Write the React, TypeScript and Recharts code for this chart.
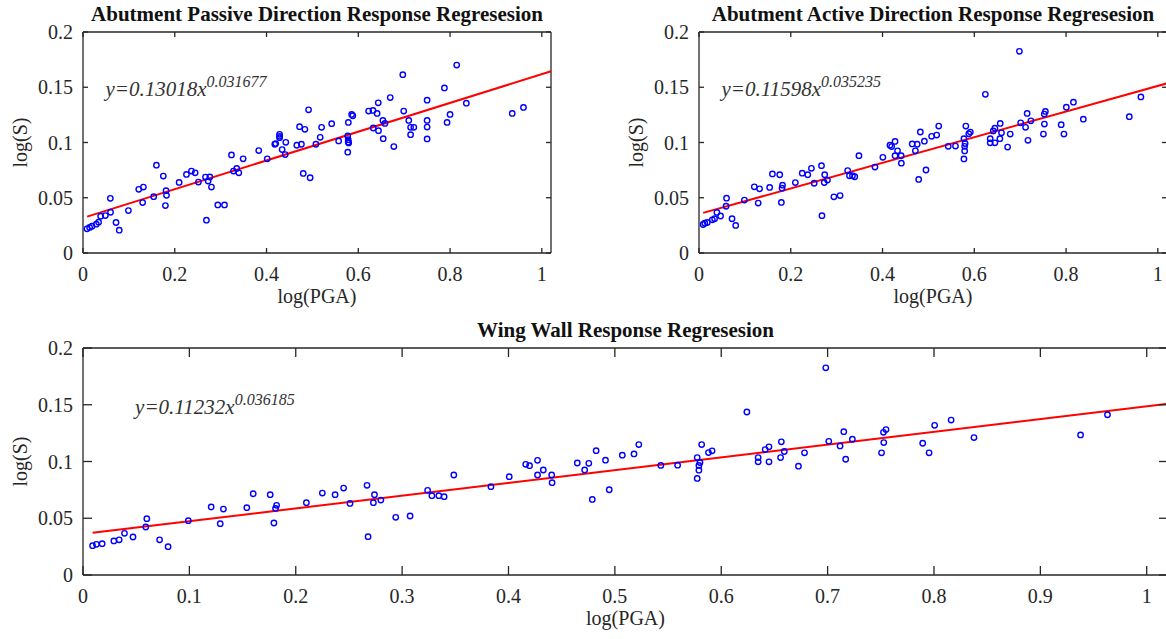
import { ComposedChart, Scatter, XAxis, YAxis, ReferenceDot } from "recharts";

const FONT = "'Liberation Serif', 'Times New Roman', serif";
const INK = "#262626";
const BLUE = "#0000ff";
const RED = "#ff0000";

// tick values
const xTicksNarrow = [0, 0.2, 0.4, 0.6, 0.8, 1];
const xTicksWide = [0, 0.1, 0.2, 0.3, 0.4, 0.5, 0.6, 0.7, 0.8, 0.9, 1];
const yTicks = [0, 0.05, 0.1, 0.15, 0.2];

// abutment passive direction: [log(PGA), log(S)]
const passivePts: [number, number][] = [
  [0.0087, 0.0219], [0.0145, 0.0231], [0.0196, 0.0243], [0.029, 0.0261], [0.034, 0.0279],
  [0.0385, 0.0333], [0.0487, 0.0339], [0.06, 0.0369], [0.0596, 0.0495], [0.072, 0.0276],
  [0.079, 0.0207], [0.099, 0.0384], [0.1215, 0.0576], [0.13, 0.0456], [0.1316, 0.0597],
  [0.154, 0.051], [0.16, 0.0795], [0.175, 0.0696], [0.1796, 0.0429], [0.181, 0.0564],
  [0.182, 0.0522], [0.2095, 0.0639], [0.2255, 0.0711], [0.2364, 0.0741], [0.2444, 0.0726],
  [0.2516, 0.0642], [0.267, 0.0687], [0.269, 0.0297], [0.2727, 0.0651], [0.2764, 0.0688],
  [0.28, 0.0597], [0.2938, 0.0435], [0.3084, 0.0435], [0.3236, 0.0888], [0.328, 0.0741],
  [0.335, 0.0765], [0.3396, 0.0726], [0.349, 0.0852], [0.383, 0.0927], [0.4015, 0.0852],
  [0.418, 0.0984], [0.42, 0.099], [0.4284, 0.1074], [0.4284, 0.1056], [0.4284, 0.1044],
  [0.434, 0.0936], [0.442, 0.1002], [0.4407, 0.0891], [0.466, 0.0975], [0.472, 0.1143],
  [0.476, 0.0984], [0.48, 0.072], [0.4836, 0.1119], [0.4916, 0.1296], [0.495, 0.0681],
  [0.5076, 0.0984], [0.517, 0.1047], [0.52, 0.1137], [0.542, 0.117], [0.5572, 0.1014],
  [0.577, 0.1059], [0.578, 0.1026], [0.578, 0.1005], [0.579, 0.0996], [0.577, 0.0912],
  [0.5783, 0.1182], [0.5855, 0.1254], [0.588, 0.1242], [0.6225, 0.1284], [0.632, 0.129],
  [0.6326, 0.1131], [0.641, 0.1263], [0.6435, 0.1359], [0.644, 0.1107], [0.6536, 0.12],
  [0.6543, 0.1035], [0.658, 0.1173], [0.6696, 0.1407], [0.6775, 0.0963], [0.697, 0.1614],
  [0.699, 0.1284], [0.71, 0.12], [0.714, 0.1137], [0.721, 0.1137], [0.714, 0.1071],
  [0.75, 0.1383], [0.75, 0.12], [0.75, 0.114], [0.75, 0.1032], [0.7877, 0.1494],
  [0.7935, 0.1182], [0.8, 0.1254], [0.8145, 0.1701], [0.8355, 0.1356], [0.9355, 0.1263],
  [0.96, 0.1317],
];

// abutment active direction and wing wall share the same points
const activePts: [number, number][] = [
  [0.009, 0.0258], [0.0126, 0.027], [0.018, 0.0276], [0.029, 0.03], [0.034, 0.031],
  [0.039, 0.0367], [0.047, 0.0335], [0.059, 0.0423], [0.06, 0.0496], [0.072, 0.031],
  [0.08, 0.025], [0.099, 0.0479], [0.1205, 0.0599], [0.129, 0.0452], [0.132, 0.0581],
  [0.154, 0.0593], [0.16, 0.0716], [0.176, 0.0708], [0.1795, 0.0458], [0.181, 0.0587],
  [0.182, 0.0614], [0.21, 0.0637], [0.225, 0.0722], [0.237, 0.0708], [0.245, 0.0766],
  [0.251, 0.0631], [0.267, 0.079], [0.268, 0.0338], [0.273, 0.0637], [0.274, 0.0708],
  [0.28, 0.066], [0.294, 0.0508], [0.3075, 0.052], [0.324, 0.0746], [0.328, 0.0699],
  [0.3345, 0.0699], [0.3395, 0.069], [0.3486, 0.0881], [0.3835, 0.0778], [0.4007, 0.0866],
  [0.4162, 0.0975], [0.4198, 0.0963], [0.4273, 0.101], [0.4273, 0.0881], [0.4327, 0.0925],
  [0.4406, 0.0881], [0.441, 0.0813], [0.4647, 0.0987], [0.4716, 0.0925], [0.4755, 0.0984],
  [0.4788, 0.0666], [0.4824, 0.1095], [0.4912, 0.1012], [0.4947, 0.0751], [0.507, 0.1056],
  [0.518, 0.1067], [0.5225, 0.1149], [0.5432, 0.0965], [0.559, 0.0968], [0.5774, 0.1035],
  [0.5774, 0.0851], [0.579, 0.0965], [0.579, 0.0924], [0.58, 0.0991], [0.5816, 0.1149],
  [0.588, 0.1079], [0.5914, 0.1094], [0.6241, 0.1436], [0.6347, 0.1035], [0.6347, 0.0997],
  [0.6413, 0.1105], [0.6449, 0.1129], [0.6449, 0.0997], [0.6558, 0.1035], [0.6565, 0.1173],
  [0.6593, 0.1088], [0.6726, 0.0959], [0.6783, 0.1076], [0.6983, 0.1825], [0.7011, 0.1178],
  [0.7117, 0.1137], [0.7152, 0.1263], [0.717, 0.102], [0.7233, 0.1196], [0.7507, 0.1076],
  [0.7525, 0.1257], [0.7528, 0.1167], [0.7549, 0.1281], [0.7894, 0.1161], [0.7954, 0.1076],
  [0.8006, 0.1319], [0.8161, 0.1365], [0.8376, 0.1211], [0.9378, 0.1234], [0.9631, 0.1412],
];
const wallPts = activePts;

// fitted lines, start and end
const passiveFit: [number, number][] = [[0.009, 0.0329], [1.02, 0.1645]];
const activeFit: [number, number][] = [[0.009, 0.0363], [1.02, 0.1535]];
const wallFit: [number, number][] = [[0.009, 0.0372], [1.02, 0.1508]];

const toRows = (pts: [number, number][]) => pts.map(([x, y]) => ({ x, y }));

const serif = { fontFamily: FONT };

const Circle = (p: any) => (
  <circle cx={p.cx} cy={p.cy} r={2.7} fill="none" stroke={BLUE} strokeWidth={1.4} />
);
const NoShape = () => <g />;

function tickFor(side: "bottom" | "top" | "left" | "right", len: number) {
  return (p: any) => {
    const { x, y, payload } = p;
    const label = String(payload.value);
    if (side === "bottom")
      return (
        <g>
          <line x1={x} y1={y} x2={x} y2={y - len} stroke={INK} strokeWidth={1.3} />
          <text x={x} y={y + 28} textAnchor="middle" style={serif} fontSize={20} fill={INK}>
            {label}
          </text>
        </g>
      );
    if (side === "left")
      return (
        <g>
          <line x1={x} y1={y} x2={x + len} y2={y} stroke={INK} strokeWidth={1.3} />
          <text x={x - 10} y={y + 7} textAnchor="end" style={serif} fontSize={20} fill={INK}>
            {label}
          </text>
        </g>
      );
    if (side === "top") return <line x1={x} y1={y} x2={x} y2={y + len} stroke={INK} strokeWidth={1.3} />;
    return <line x1={x} y1={y} x2={x - len} y2={y} stroke={INK} strokeWidth={1.3} />;
  };
}

type PanelProps = {
  left: number;
  top: number;
  width: number;
  height: number;
  plotHeight: number;
  title: string;
  pts: [number, number][];
  fit: [number, number][];
  coef: string;
  power: string;
  xTicks: number[];
  tickLen: number;
};

function Panel({ left, top, width, height, plotHeight, title, pts, fit, coef, power, xTicks, tickLen }: PanelProps) {
  const axisLine = { stroke: INK, strokeWidth: 1.3 };
  return (
    <div style={{ position: "absolute", left, top }}>
      <ComposedChart
        width={width}
        height={height}
        margin={{ top: 31, right: 8, bottom: 0, left: 0 }}
      >
        <XAxis
          xAxisId="b"
          dataKey="x"
          type="number"
          domain={[0, 1.02]}
          ticks={xTicks}
          interval={0}
          height={height - 32 - plotHeight}
          tickSize={0}
          tickMargin={0}
          tickLine={false}
          axisLine={axisLine}
          tick={tickFor("bottom", tickLen)}
          label={(lp: any) => {
            const vb = lp.viewBox;
            return (
              <text x={vb.x + vb.width / 2} y={vb.y + 50} textAnchor="middle" style={serif} fontSize={20} fill={INK}>
                log(PGA)
              </text>
            );
          }}
        />
        <XAxis
          xAxisId="t"
          orientation="top"
          type="number"
          dataKey="x"
          domain={[0, 1.02]}
          ticks={xTicks}
          interval={0}
          height={1}
          tickSize={0}
          tickMargin={0}
          tickLine={false}
          axisLine={axisLine}
          tick={tickFor("top", tickLen)}
          label={(lp: any) => {
            const vb = lp.viewBox;
            return (
              <text x={vb.x + vb.width / 2} y={vb.y - 10.3} textAnchor="middle" style={serif} fontSize={21} fontWeight="bold" fill="#111">
                {title}
              </text>
            );
          }}
        />
        <YAxis
          yAxisId="l"
          dataKey="y"
          type="number"
          domain={[0, 0.2]}
          ticks={yTicks}
          interval={0}
          width={83}
          tickSize={0}
          tickMargin={0}
          tickLine={false}
          axisLine={axisLine}
          tick={tickFor("left", tickLen)}
          label={(lp: any) => {
            const vb = lp.viewBox;
            const cx = vb.x + 27;
            const cy = vb.y + vb.height / 2;
            return (
              <text x={cx} y={cy} transform={`rotate(-90, ${cx}, ${cy})`} textAnchor="middle" style={serif} fontSize={20} fill={INK}>
                log(S)
              </text>
            );
          }}
        />
        <YAxis
          yAxisId="r"
          orientation="right"
          type="number"
          dataKey="y"
          domain={[0, 0.2]}
          ticks={yTicks}
          interval={0}
          width={1}
          tickSize={0}
          tickMargin={0}
          tickLine={false}
          axisLine={axisLine}
          tick={tickFor("right", tickLen)}
        />
        {/* invisible series so the mirrored top/right axes are drawn */}
        <Scatter
          xAxisId="t"
          yAxisId="r"
          data={toRows(fit)}
          shape={NoShape}
          isAnimationActive={false}
        />
        <Scatter
          xAxisId="b"
          yAxisId="l"
          data={toRows(fit)}
          line={{ stroke: RED, strokeWidth: 2 }}
          shape={NoShape}
          isAnimationActive={false}
        />
        <Scatter
          xAxisId="b"
          yAxisId="l"
          data={toRows(pts)}
          shape={Circle}
          isAnimationActive={false}
        />
        <ReferenceDot
          xAxisId="b"
          yAxisId="l"
          x={0.049}
          y={0.1422}
          r={0}
          fill="none"
          stroke="none"
          label={(lp: any) => {
            const vb = lp.viewBox;
            return (
              <text x={vb.x} y={vb.y} style={{ ...serif, fontStyle: "italic" }} fontSize={21} fill="#333">
                {coef}
                <tspan dy={-9} fontSize={16}>
                  {power}
                </tspan>
              </text>
            );
          }}
        />
      </ComposedChart>
    </div>
  );
}

export default function App() {
  return (
    <div
      style={{
        position: "absolute",
        left: 0,
        top: 0,
        width: 1166,
        height: 639,
        overflow: "hidden",
        background: "#fff",
      }}
    >
      <Panel
        left={0}
        top={0}
        width={560}
        height={312}
        plotHeight={221}
        title="Abutment Passive Direction Response Regresesion"
        pts={passivePts}
        fit={passiveFit}
        coef="y=0.13018x"
        power="0.031677"
        xTicks={xTicksNarrow}
        tickLen={5}
      />
      <Panel
        left={616}
        top={0}
        width={560}
        height={312}
        plotHeight={221}
        title="Abutment Active Direction Response Regresesion"
        pts={activePts}
        fit={activeFit}
        coef="y=0.11598x"
        power="0.035235"
        xTicks={xTicksNarrow}
        tickLen={5}
      />
      <Panel
        left={0}
        top={316}
        width={1177}
        height={323}
        plotHeight={227}
        title="Wing Wall Response Regresesion"
        pts={wallPts}
        fit={wallFit}
        coef="y=0.11232x"
        power="0.036185"
        xTicks={xTicksWide}
        tickLen={9}
      />
    </div>
  );
}
